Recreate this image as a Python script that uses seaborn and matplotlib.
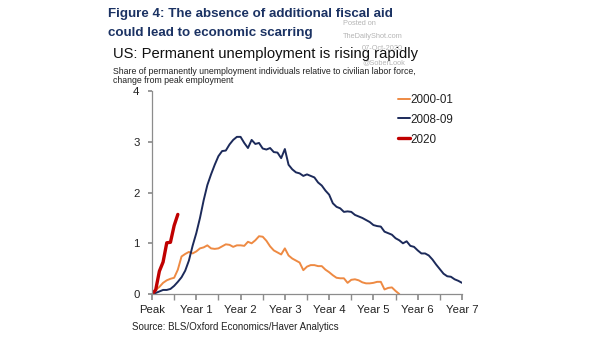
import numpy as np
import pandas as pd
import matplotlib
matplotlib.use("Agg")
import matplotlib.pyplot as plt
import seaborn as sns

# ---- data (months from peak employment) ----
gfc_2008 = [0.00, 0.02, 0.05, 0.08, 0.08, 0.10, 0.16, 0.24, 0.33, 0.46,
            0.66, 0.95, 1.20, 1.50, 1.85, 2.15, 2.36, 2.55, 2.72, 2.82,
            2.83, 2.95, 3.04, 3.10, 3.10, 2.98, 2.88, 3.04, 2.96, 2.98,
            2.87, 2.85, 2.88, 2.80, 2.79, 2.68, 2.86, 2.55, 2.46, 2.40,
            2.38, 2.33, 2.36, 2.33, 2.30, 2.20, 2.14, 2.04, 1.96, 1.79,
            1.72, 1.69, 1.62, 1.63, 1.62, 1.56, 1.53, 1.50, 1.46, 1.42,
            1.36, 1.34, 1.33, 1.23, 1.20, 1.17, 1.10, 1.06, 1.00, 1.04,
            0.95, 0.93, 0.86, 0.80, 0.80, 0.76, 0.68, 0.58, 0.49, 0.40,
            0.35, 0.34, 0.29, 0.26, 0.22]
dotcom_2000 = [0.00, 0.08, 0.14, 0.22, 0.27, 0.30, 0.32, 0.48, 0.74, 0.79,
               0.83, 0.80, 0.84, 0.90, 0.92, 0.96, 0.90, 0.89, 0.90, 0.94,
               0.98, 0.97, 0.93, 0.96, 0.96, 0.95, 1.03, 1.00, 1.06, 1.14,
               1.13, 1.05, 0.94, 0.86, 0.82, 0.78, 0.90, 0.76, 0.70, 0.66,
               0.62, 0.47, 0.54, 0.57, 0.57, 0.55, 0.55, 0.48, 0.43, 0.37,
               0.32, 0.31, 0.31, 0.22, 0.28, 0.29, 0.27, 0.23, 0.21, 0.21,
               0.22, 0.24, 0.24, 0.09, 0.12, 0.13, 0.06, 0.00]
covid_2020 = [0.00, 0.08, 0.45, 0.63, 1.01, 1.02, 1.35, 1.57]

series_names = ["2000-01", "2008-09", "2020"]
x_tick_labels = ["Peak", "Year 1", "Year 2", "Year 3", "Year 4", "Year 5", "Year 6", "Year 7"]
y_ticks = [0, 1, 2, 3, 4]

frames = []
for name, vals in zip(series_names, [dotcom_2000, gfc_2008, covid_2020]):
    frames.append(pd.DataFrame({"month": np.arange(len(vals)), "value": vals, "series": name}))
df = pd.concat(frames, ignore_index=True)

sns.set_theme(style="white")
plt.rcParams["font.family"] = ["Liberation Sans", "DejaVu Sans"]

W, H = 605, 341
fig = plt.figure(figsize=(W / 100, H / 100), dpi=100)
ax = fig.add_axes([152 / W, 1 - 294 / H, 310 / W, 203 / H])

colors = {"2000-01": "#EE8A43", "2008-09": "#1C2A5A", "2020": "#C00000"}
widths = {"2000-01": 1.4, "2008-09": 1.4, "2020": 2.4}
for name in series_names:
    sns.lineplot(data=df[df["series"] == name], x="month", y="value", ax=ax,
                 color=colors[name], linewidth=widths[name], label=name)

ax.set_xlim(0, 84)
ax.set_ylim(0, 4.005)
ax.set_xlabel("")
ax.set_ylabel("")
ax.set_xticks(np.arange(0, 85, 12))
ax.set_xticklabels(x_tick_labels)
ax.set_xticks(np.arange(6, 85, 12), minor=True)
ax.set_yticks(y_ticks)
ax.set_yticklabels([str(v) for v in y_ticks])
for s in ["top", "right"]:
    ax.spines[s].set_visible(False)
for s in ["left", "bottom"]:
    ax.spines[s].set_color("#8c8c8c")
    ax.spines[s].set_linewidth(0.9)
ax.tick_params(axis="both", which="both", direction="out", color="#8c8c8c",
               labelsize=8.2, labelcolor="#222222", bottom=True, left=True)
ax.tick_params(axis="x", which="both", length=4, pad=4)
ax.tick_params(axis="y", length=3, pad=6)
ax.grid(False)

leg = ax.legend(loc="upper left", bbox_to_anchor=(241 / 310, 1.01), frameon=False,
                fontsize=8.4, handlelength=1.05, handletextpad=0.05, labelspacing=0.68,
                borderaxespad=0)
for t in leg.get_texts():
    t.set_color("#222222")

def ftext(x, y, s, **kw):
    fig.text(x / W, 1 - y / H, s, va="baseline", **kw)

# watermark
wm = dict(ha="right", fontsize=5.3, color="#b5b5b5")
ftext(343, 25, "Posted on", ha="left", fontsize=5.3, color="#b5b5b5")
ftext(403, 38, "TheDailyShot.com", **wm)
ftext(403, 50, "07-Oct-2020", **wm)
ftext(405, 64, "@SoberLook", **wm)

navy = "#1B3263"
ftext(108, 17.5, "Figure 4: The absence of additional fiscal aid", fontsize=9.6, fontweight="bold", color=navy)
ftext(108, 36, "could lead to economic scarring", fontsize=9.6, fontweight="bold", color=navy)
ftext(113, 58.3, "US: Permanent unemployment is rising rapidly", fontsize=10.6, color="#111111")
ftext(113, 74, "Share of permanently unemployment individuals relative to civilian labor force,",
      fontsize=6.3, color="#222222")
ftext(113, 83, "change from peak employment", fontsize=6.3, color="#222222")
ftext(132, 330, "Source: BLS/Oxford Economics/Haver Analytics", fontsize=7, color="#222222")

fig.savefig("out.png", dpi=100)
